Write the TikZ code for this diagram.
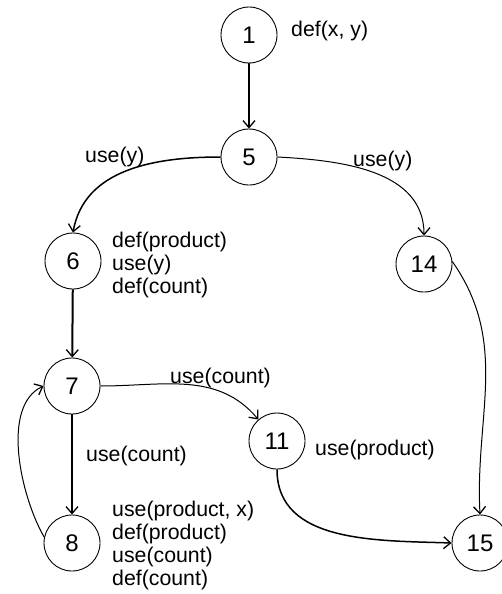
\documentclass[tikz,border=0pt]{standalone}
\usepackage{fontspec}
\setmainfont{Liberation Sans}
\usetikzlibrary{arrows.meta}
\begin{document}
\begin{tikzpicture}[x=1pt,y=-1pt,
  vert/.style={circle,draw,line width=0.9pt,minimum size=56pt,inner sep=0pt,
    font=\fontsize{24}{28}\selectfont},
  lbl/.style={inner sep=0pt,anchor=base west,font=\fontsize{21.3}{23.3}\selectfont},
  tip/.style={-{Straight Barb[length=7pt,width=12pt,line width=1.3pt]}},
  heavy/.style={tip,line width=2pt},
  mid/.style={tip,line width=1.5pt},
  thin/.style={tip,line width=1pt}]
\useasboundingbox (0,0) rectangle (502,594);
\node[vert] (n1) at (249,35) {1};
\node[vert] (n5) at (249,157) {5};
\node[vert] (n6) at (73,261) {6};
\node[vert] (n14) at (424,264) {14};
\node[vert] (n7) at (72,386) {7};
\node[vert] (n11) at (277,441) {11};
\node[vert] (n8) at (72,543) {8};
\node[vert] (n15) at (480,543) {15};

\node[lbl] (l1) at (291,37) {def(x, y)};
\node[lbl] (l5a) at (85,162) {use(y)};
\node[lbl] (l5b) at (353,166) {use(y)};
\node[lbl] (l6) at (112,247) {\begin{tabular}[t]{@{}l@{}}def(product)\\use(y)\\def(count)\end{tabular}};
\node[lbl] (l7a) at (170,383) {use(count)};
\node[lbl] (l7b) at (86,461) {use(count)};
\node[lbl] (l11) at (315,455) {use(product)};
\node[lbl] (l8) at (112,516) {\begin{tabular}[t]{@{}l@{}}use(product, x)\\def(product)\\use(count)\\def(count)\end{tabular}};

\draw[heavy] (n1) -- (n5);
\draw[mid] (n5.west) to[out=180,in=80] (n6.north);
\draw[thin] (n5.east) to[out=-3,in=90] (n14.north);
\draw[heavy] (n6) -- (n7);
\draw[thin] (n7.east) to[out=0,in=130] (n11.131);
\draw[heavy] (n7) -- (n8);
\draw[thin] (n8.168) to[out=120,in=205,looseness=0.8] (n7.west);
\draw[mid] (n11.south) to[out=-90,in=178] (n15.west);
\draw[thin] (n14.5) to[out=-55,in=93] (n15.north);
\end{tikzpicture}
\end{document}
